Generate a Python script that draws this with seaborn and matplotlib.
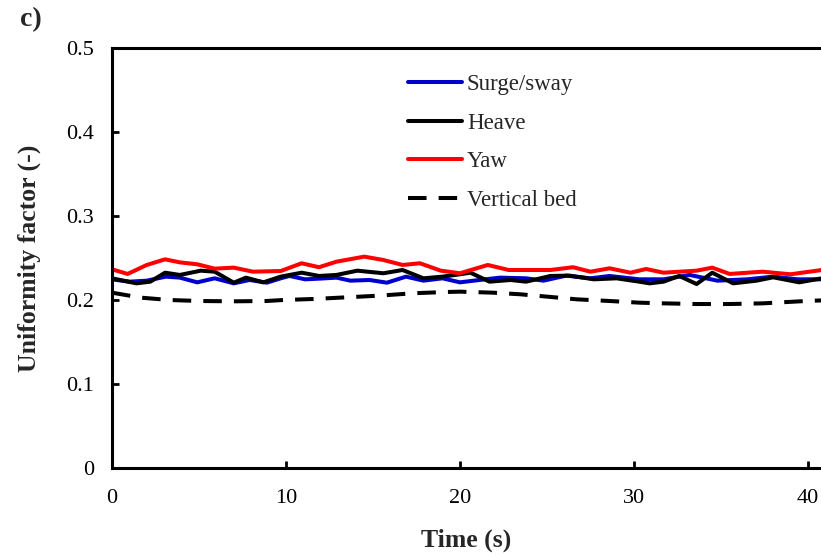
import matplotlib
matplotlib.use("Agg")
import matplotlib.pyplot as plt
import seaborn as sns

# Uniformity factor time histories
surge_t = [0, 1.0, 2.0, 3.1, 3.9, 4.9, 5.9, 7.0, 7.9, 8.9, 9.7, 10.2, 11.1, 12.0,
           12.9, 13.7, 14.8, 15.8, 16.9, 17.9, 19.0, 20.0, 21.0, 22.3, 23.8, 24.8,
           26.1, 27.5, 28.6, 30.3, 31.7, 33.2, 34.8, 36.5, 38.0, 39.4, 40.8]
surge_u = [0.2246, 0.2218, 0.2230, 0.2278, 0.2266, 0.2210, 0.2258, 0.2198, 0.2238,
           0.2206, 0.2258, 0.2286, 0.2246, 0.2255, 0.2266, 0.2230, 0.2238, 0.2206,
           0.2278, 0.2230, 0.2258, 0.2210, 0.2235, 0.2266, 0.2258, 0.2230, 0.2290,
           0.2258, 0.2286, 0.2246, 0.2246, 0.2298, 0.2230, 0.2246, 0.2278, 0.2246,
           0.2246]

heave_t = [0, 1.4, 2.2, 3.05, 3.9, 5.1, 5.9, 7.0, 7.7, 8.7, 9.7, 10.9, 11.9, 12.9,
           14.1, 15.6, 16.7, 17.9, 19.0, 20.0, 20.6, 21.7, 22.9, 23.8, 25.2, 26.3,
           27.7, 29.0, 30.3, 30.9, 31.7, 32.6, 33.6, 34.5, 35.7, 37.05, 38.0, 39.5,
           40.8]
heave_u = [0.2258, 0.2198, 0.2218, 0.2325, 0.2298, 0.2349, 0.2337, 0.2206, 0.2266,
           0.2210, 0.2278, 0.2325, 0.2286, 0.2298, 0.2349, 0.2318, 0.2357, 0.2258,
           0.2278, 0.2306, 0.2325, 0.2218, 0.2238, 0.2218, 0.2286, 0.2290, 0.2246,
           0.2258, 0.2218, 0.2198, 0.2218, 0.2286, 0.2190, 0.2325, 0.2198, 0.2230,
           0.2270, 0.2210, 0.2258]

yaw_t = [0, 0.9, 2.0, 3.05, 3.9, 4.9, 5.9, 7.0, 8.1, 9.7, 10.9, 11.9, 12.9, 14.5,
         15.6, 16.7, 17.7, 18.9, 20.0, 21.6, 22.8, 25.2, 26.5, 27.5, 28.6, 29.8,
         30.7, 31.7, 33.6, 34.5, 35.5, 37.4, 39.0, 40.8]
yaw_u = [0.2365, 0.2310, 0.2417, 0.2484, 0.2448, 0.2425, 0.2373, 0.2385, 0.2337,
         0.2345, 0.2437, 0.2390, 0.2456, 0.2516, 0.2476, 0.2417, 0.2437, 0.2349,
         0.2318, 0.2417, 0.2357, 0.2357, 0.2390, 0.2337, 0.2377, 0.2325, 0.2369,
         0.2325, 0.2349, 0.2385, 0.2310, 0.2337, 0.2306, 0.2357]

bed_t = [0, 1.7, 3.3, 5.0, 7.0, 8.9, 9.85, 11.6, 13.5, 15.4, 17.3, 19.2, 20.0, 21.9,
         23.45, 25.0, 26.7, 28.6, 30.3, 31.7, 33.6, 35.5, 37.4, 39.9, 40.8]
bed_u = [0.2087, 0.2027, 0.2000, 0.1988, 0.1984, 0.1988, 0.2000, 0.2012, 0.2032,
         0.2052, 0.2080, 0.2095, 0.2099, 0.2087, 0.2068, 0.2040, 0.2008, 0.1988,
         0.1968, 0.1960, 0.1952, 0.1952, 0.1960, 0.1988, 0.1995]

x_ticks = [0, 10, 20, 30, 40]
y_ticks = [0, 0.1, 0.2, 0.3, 0.4, 0.5]
y_tick_labels = ["0", "0.1", "0.2", "0.3", "0.4", "0.5"]

sns.set_theme(style="white")
plt.rcParams["font.family"] = ["Liberation Serif", "DejaVu Serif"]

fig = plt.figure(figsize=(8.21, 5.56), dpi=100)
ax = fig.add_axes([0.1364, 0.1583, 0.8636, 0.7554])

series = [
    ("Surge/sway", surge_t, surge_u, "#0000CC"),
    ("Heave", heave_t, heave_u, "#000000"),
    ("Yaw", yaw_t, yaw_u, "#FF0000"),
]
for name, t, u, c in series:
    sns.lineplot(x=t, y=u, ax=ax, color=c, lw=2.9, label=name, sort=False)

sns.lineplot(x=bed_t, y=bed_u, ax=ax, color="black", lw=2.9, label="Vertical bed",
             sort=False)
ax.lines[-1].set_dashes((4.6, 3.0))

ax.set_xlim(0, 40.75)
ax.set_ylim(0, 0.5)
ax.set_xticks(x_ticks)
ax.set_yticks(y_ticks)
ax.set_yticklabels(y_tick_labels)

for side in ["left", "bottom", "top"]:
    ax.spines[side].set_visible(True)
    ax.spines[side].set_color("black")
    ax.spines[side].set_linewidth(2.2)
ax.spines["right"].set_visible(False)

ax.tick_params(axis="both", direction="in", length=5, width=2.0, color="black",
               labelsize=16, labelcolor="black")
ax.tick_params(axis="x", top=False, bottom=True, pad=15)
ax.tick_params(axis="y", left=True, right=False, pad=13)

ax.set_xlabel("Time (s)", fontsize=18.5, fontweight="bold", labelpad=15)
ax.set_ylabel("Uniformity factor (-)", fontsize=18.5, fontweight="bold", labelpad=18)

fig.text(0.024, 0.965, "c)", fontsize=20, fontweight="bold", va="center", ha="left")

leg = ax.legend(loc="upper left", bbox_to_anchor=(0.4175, 0.937), frameon=False,
                fontsize=16.5, handlelength=2.35, handletextpad=0.22,
                labelspacing=0.76, borderpad=0, borderaxespad=0)

fig.savefig("out.png", dpi=100)
